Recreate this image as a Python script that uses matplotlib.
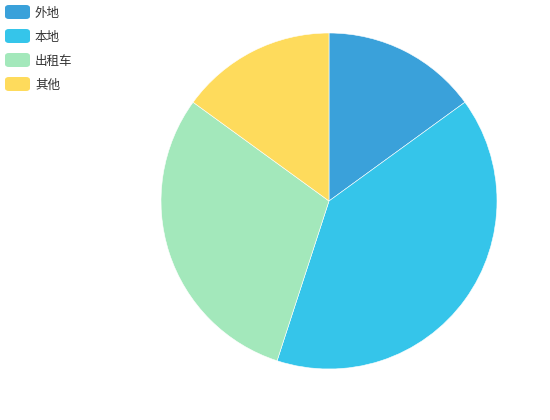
import matplotlib.pyplot as plt
from matplotlib.patches import FancyBboxPatch

plt.rcParams['font.family'] = ['Noto Sans CJK SC', 'DejaVu Sans']

labels = ['外地', '本地', '出租车', '其他']
values = [15, 40, 30, 15]
colors = ['#3aa1da', '#35c5ea', '#a3e8bb', '#fedb5c']

W, H = 550, 420
fig = plt.figure(figsize=(W / 100, H / 100), dpi=100)

# pie centred at (329, 201) px, radius 168 px
cx, cy, r = 329, 201, 168
ax = fig.add_axes([(cx - r) / W, (H - cy - r) / H, 2 * r / W, 2 * r / H])
ax.pie(values, colors=colors, startangle=90, counterclock=False,
       wedgeprops=dict(edgecolor='white', linewidth=0.4))
ax.set_aspect('equal')
ax.set_xlim(-1, 1)
ax.set_ylim(-1, 1)

# legend top-left
for i, (lab, col) in enumerate(zip(labels, colors)):
    y = 12 + i * 24
    box = FancyBboxPatch((5 / W, (H - y - 7) / H), 25 / W, 14 / H,
                         boxstyle='round,pad=0,rounding_size=0.007',
                         transform=fig.transFigure, facecolor=col, edgecolor='none')
    fig.patches.append(box)
    fig.text(35 / W, (H - y - 1) / H, lab, fontsize=9, color='#333333', va='center', ha='left')

fig.savefig('out.png', dpi=100)
